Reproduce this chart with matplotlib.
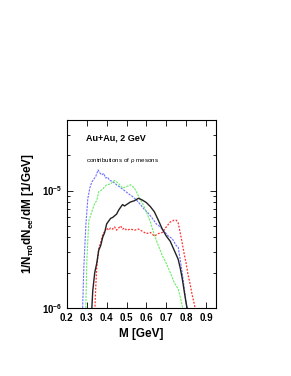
import matplotlib
matplotlib.use('Agg')
import matplotlib.pyplot as plt
from matplotlib.ticker import LogLocator, FixedLocator, NullFormatter
import numpy as np

plt.rcParams.update({
    'font.family': ['Liberation Sans', 'DejaVu Sans'],
    'font.weight': 'bold',
    'mathtext.default': 'regular',
})

# ─── Data ───────────────────────────────────────────────────
m_blue = [0.279, 0.285, 0.295, 0.305, 0.315, 0.325, 0.335, 0.345, 0.357, 0.365, 0.375,
          0.385, 0.395, 0.405, 0.415, 0.43, 0.45, 0.47, 0.49, 0.51, 0.53, 0.55,
          0.57, 0.59, 0.61, 0.63, 0.65, 0.67, 0.69, 0.71, 0.73, 0.75, 0.76,
          0.77, 0.78, 0.79, 0.80, 0.81]
y_blue = [1.0e-6, 2.2e-6, 5.0e-6, 8.5e-6, 1.05e-5, 1.18e-5, 1.25e-5, 1.32e-5, 1.5e-5, 1.42e-5, 1.36e-5,
          1.40e-5, 1.28e-5, 1.30e-5, 1.22e-5, 1.20e-5, 1.12e-5, 1.06e-5, 1.0e-5, 9.4e-6, 8.9e-6, 8.3e-6,
          7.6e-6, 6.9e-6, 6.4e-6, 5.8e-6, 5.2e-6, 4.9e-6, 4.5e-6, 4.1e-6, 3.9e-6, 3.4e-6, 3.3e-6,
          2.6e-6, 2.0e-6, 1.5e-6, 1.1e-6, 0.9e-6]

m_green = [0.295, 0.30, 0.31, 0.32, 0.33, 0.34, 0.35, 0.36, 0.37, 0.38, 0.39, 0.40,
           0.42, 0.44, 0.46, 0.48, 0.50, 0.52, 0.54, 0.56, 0.58, 0.60, 0.62,
           0.64, 0.66, 0.68, 0.70, 0.72, 0.74, 0.76, 0.77, 0.78, 0.79]
y_green = [1.0e-6, 2.5e-6, 5.5e-6, 6.2e-6, 7.0e-6, 7.8e-6, 8.2e-6, 9.8e-6, 1.0e-5, 1.03e-5, 1.08e-5, 1.12e-5,
           1.14e-5, 1.22e-5, 1.15e-5, 1.05e-5, 1.08e-5, 1.12e-5, 1.05e-5, 9.0e-6, 7.8e-6, 6.6e-6, 5.4e-6,
           4.2e-6, 3.4e-6, 2.8e-6, 2.4e-6, 2.0e-6, 1.65e-6, 1.45e-6, 1.25e-6, 1.05e-6, 0.9e-6]

m_black = [0.324, 0.33, 0.34, 0.35, 0.36, 0.37, 0.38, 0.39, 0.40, 0.41, 0.42, 0.43,
           0.44, 0.45, 0.46, 0.47, 0.48, 0.49, 0.50, 0.52, 0.54, 0.56, 0.58, 0.60,
           0.62, 0.64, 0.66, 0.68, 0.70, 0.72, 0.74, 0.76, 0.77, 0.78, 0.79, 0.80, 0.81]
y_black = [0.9e-6, 1.4e-6, 2.0e-6, 2.4e-6, 3.1e-6, 3.4e-6, 4.0e-6, 4.4e-6, 5.2e-6, 5.5e-6, 5.8e-6, 5.9e-6,
           6.1e-6, 6.3e-6, 6.8e-6, 7.2e-6, 7.6e-6, 7.4e-6, 7.6e-6, 8.0e-6, 8.2e-6, 8.6e-6, 8.3e-6, 7.9e-6,
           7.3e-6, 6.6e-6, 5.6e-6, 4.7e-6, 4.1e-6, 3.7e-6, 3.1e-6, 2.6e-6, 2.2e-6, 1.8e-6, 1.4e-6, 1.1e-6, 0.9e-6]

m_red = [0.34, 0.345, 0.35, 0.36, 0.37, 0.38, 0.39, 0.40, 0.41, 0.42, 0.43, 0.44,
         0.45, 0.46, 0.47, 0.48, 0.49, 0.50, 0.52, 0.54, 0.56, 0.58, 0.60, 0.62,
         0.64, 0.66, 0.68, 0.70, 0.72, 0.74, 0.75, 0.76, 0.77, 0.78, 0.79, 0.80,
         0.81, 0.82, 0.83, 0.84, 0.85]
y_red = [0.9e-6, 1.5e-6, 2.2e-6, 3.2e-6, 3.6e-6, 4.2e-6, 4.5e-6, 4.8e-6, 4.6e-6, 4.8e-6, 4.7e-6, 4.9e-6,
         4.6e-6, 4.8e-6, 5.0e-6, 4.7e-6, 4.8e-6, 4.6e-6, 4.7e-6, 4.6e-6, 4.7e-6, 4.5e-6, 4.3e-6, 4.4e-6,
         4.1e-6, 4.3e-6, 4.4e-6, 4.9e-6, 5.4e-6, 5.6e-6, 5.6e-6, 5.3e-6, 4.4e-6, 3.6e-6, 2.9e-6, 2.4e-6,
         1.9e-6, 1.6e-6, 1.3e-6, 1.1e-6, 0.9e-6]

xticks = [0.2, 0.3, 0.4, 0.5, 0.6, 0.7, 0.8, 0.9]

fig = plt.figure(figsize=(2.91, 3.76), dpi=100)
ax = fig.add_axes([0.230, 0.181, 0.512, 0.500])

ax.plot(m_blue, y_blue, color='#6f6fff', lw=0.8, ls=(0, (2, 1)))
ax.plot(m_green, y_green, color='#66ee66', lw=0.8, ls=(0, (2, 1)))
ax.plot(m_red, y_red, color='#ff3030', lw=0.9, ls=(0, (1.5, 1.2)))
ax.plot(m_black, y_black, color='#222222', lw=1.0)

ax.set_yscale('log')
ax.set_xlim(0.2, 0.95)
ax.set_ylim(1e-6, 4e-5)

ax.xaxis.set_major_locator(FixedLocator(xticks))
ax.set_xticklabels([f'{t:.1f}' for t in xticks])
ax.yaxis.set_major_locator(FixedLocator([1e-6, 1e-5]))
ax.set_yticklabels([r'10$^{-6}$', r'10$^{-5}$'])
ax.yaxis.set_minor_locator(LogLocator(base=10, subs=np.arange(2, 10)))
ax.yaxis.set_minor_formatter(NullFormatter())

ax.tick_params(which='both', direction='in', top=True, right=True, labelsize=7, width=0.6)
ax.tick_params(which='major', length=4)
ax.tick_params(which='minor', length=2)
for s in ax.spines.values():
    s.set_linewidth(0.8)

ax.set_xlabel('M [GeV]', fontsize=8.5, fontweight='bold')
ax.set_ylabel(r'1/N$_{\pi0}$dN$_{ee}$/dM [1/GeV]', fontsize=8.5, fontweight='bold')

ax.text(0.13, 0.93, 'Au+Au, 2 GeV', transform=ax.transAxes, fontsize=6.5,
        fontweight='bold', va='top')
ax.text(0.13, 0.81, r'contributions of $\rho$ mesons', transform=ax.transAxes,
        fontsize=4.5, va='top', fontweight='normal')

fig.savefig('out.png', dpi=100)
